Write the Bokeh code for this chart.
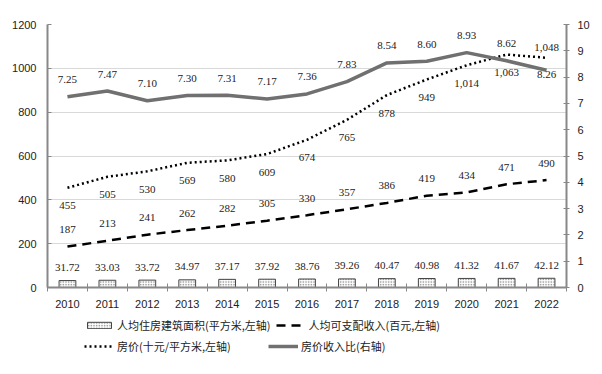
from bokeh.plotting import figure
from bokeh.layouts import column
from bokeh.models import (Range1d, LinearAxis, FixedTicker, ColumnDataSource,
                          LabelSet, Legend, LegendItem)
from bokeh.embed import file_html
from bokeh.resources import INLINE

years = [2010, 2011, 2012, 2013, 2014, 2015, 2016, 2017, 2018, 2019, 2020, 2021, 2022]
area = [31.72, 33.03, 33.72, 34.97, 37.17, 37.92, 38.76, 39.26, 40.47, 40.98, 41.32, 41.67, 42.12]
income = [187, 213, 241, 262, 282, 305, 330, 357, 386, 419, 434, 471, 490]
price = [455, 505, 530, 569, 580, 609, 674, 765, 878, 949, 1014, 1063, 1048]
ratio = [7.25, 7.47, 7.10, 7.30, 7.31, 7.17, 7.36, 7.83, 8.54, 8.60, 8.93, 8.62, 8.26]
left_ticks = [0, 200, 400, 600, 800, 1000, 1200]
right_ticks = [0, 1, 2, 3, 4, 5, 6, 7, 8, 9, 10]

names = ["人均住房建筑面积(平方米,左轴)", "人均可支配收入(百元,左轴)",
         "房价(十元/平方米,左轴)", "房价收入比(右轴)"]

FONT = "Liberation Sans"
CJK = "Noto Sans CJK SC"
AXIS_COL = "#888888"
W = 594

n = len(years)
price_off = [-18] * n
price_off[-1] = 10
ratio_off = [17] * n
ratio_off[-1] = -4

src = ColumnDataSource(dict(
    x=years, area=area, income=income, price=price, ratio=ratio,
    area_t=[f"{v:.2f}" for v in area],
    income_t=[str(v) for v in income],
    price_t=[f"{v:,}" for v in price],
    ratio_t=[f"{v:.2f}" for v in ratio],
    price_off=price_off, ratio_off=ratio_off,
))

p = figure(frame_width=519, frame_height=263,
           x_range=Range1d(2009.5, 2022.5), y_range=Range1d(0, 1200),
           output_backend="svg", toolbar_location=None,
           min_border_left=47, min_border_right=28, min_border_top=24,
           min_border_bottom=29)
p.outline_line_color = None
p.background_fill_color = "white"
p.border_fill_color = "white"
p.extra_y_ranges = {"right": Range1d(0, 10)}

# grid
p.xgrid.visible = False
p.ygrid.grid_line_color = "#d9d9d9"
p.ygrid.grid_line_width = 1

# left axis
ya = p.yaxis[0]
ya.ticker = FixedTicker(ticks=left_ticks)
ya.axis_line_color = AXIS_COL
ya.axis_line_width = 2
ya.major_tick_in = 4
ya.major_tick_out = 0
ya.major_tick_line_color = AXIS_COL
ya.minor_tick_line_color = None
ya.major_label_standoff = 11
ya.major_label_text_font = FONT
ya.major_label_text_font_size = "11px"
ya.major_label_text_color = "#222222"

# right axis
ra = LinearAxis(y_range_name="right", ticker=FixedTicker(ticks=right_ticks))
ra.axis_line_color = AXIS_COL
ra.axis_line_width = 2
ra.major_tick_in = 3
ra.major_tick_out = 3
ra.major_tick_line_color = AXIS_COL
ra.minor_tick_line_color = None
ra.major_label_standoff = 8
ra.major_label_text_font = FONT
ra.major_label_text_font_size = "11px"
ra.major_label_text_color = "#222222"
p.add_layout(ra, "right")

# x axis
xa = p.xaxis[0]
xa.ticker = FixedTicker(ticks=years, minor_ticks=[y - 0.5 for y in years] + [years[-1] + 0.5])
xa.major_label_overrides = {y: str(y) for y in years}
xa.axis_line_color = AXIS_COL
xa.axis_line_width = 2
xa.major_tick_in = 0
xa.major_tick_out = 0
xa.minor_tick_in = 4
xa.minor_tick_out = 4
xa.minor_tick_line_color = AXIS_COL
xa.major_label_standoff = 8
xa.major_label_text_font = FONT
xa.major_label_text_font_size = "11px"
xa.major_label_text_color = "#222222"

# styles
bar_style = dict(fill_color="white", line_color="#444444", line_width=1,
                 hatch_pattern="dot", hatch_color="#222222", hatch_scale=1.6,
                 hatch_weight=1)
inc_style = dict(line_color="black", line_width=2.5, line_dash="9 6")
pr_style = dict(line_color="black", line_width=2.5, line_dash="2 3")
rt_style = dict(line_color="#707070", line_width=3.5)

# marks
p.vbar(x="x", top="area", width=0.42, source=src, **bar_style)
p.line("x", "income", source=src, **inc_style)
p.line("x", "price", source=src, **pr_style)
p.line("x", "ratio", source=src, y_range_name="right", **rt_style)

lab_kw = dict(text_font=FONT, text_font_size="11px", text_color="#222222",
              text_align="center", text_baseline="middle")
p.add_layout(LabelSet(x="x", y="area", text="area_t", y_offset=13, source=src, **lab_kw))
p.add_layout(LabelSet(x="x", y="income", text="income_t", y_offset=17, source=src, **lab_kw))
p.add_layout(LabelSet(x="x", y="price", text="price_t", y_offset="price_off", source=src, **lab_kw))
p.add_layout(LabelSet(x="x", y="ratio", text="ratio_t", y_offset="ratio_off", source=src,
                      y_range_name="right", **lab_kw))

# legend panel (separate small figure below the chart; its renderers are
# hidden, only their legend swatches are drawn)
lf = figure(width=W, height=50, x_range=Range1d(0, 1), y_range=Range1d(0, 1),
            x_axis_type=None, y_axis_type=None,
            output_backend="svg", toolbar_location=None, min_border=0)
lf.grid.visible = False
lf.outline_line_color = None
lf.background_fill_color = "white"
lf.border_fill_color = "white"
r_bar = lf.vbar(x="x", top="area", width=0.42, source=src, visible=False, **bar_style)
r_inc = lf.line("x", "income", source=src, visible=False, **inc_style)
r_pr = lf.line("x", "price", source=src, visible=False, **pr_style)
r_rt = lf.line("x", "ratio", source=src, visible=False, **rt_style)


def make_legend(items, loc):
    lg = Legend(items=items, orientation="horizontal", location=loc)
    lg.label_text_font = CJK
    lg.label_text_font_size = "11px"
    lg.label_text_color = "#222222"
    lg.glyph_width = 30
    lg.glyph_height = 8
    lg.label_height = 8
    lg.label_width = 146
    lg.label_standoff = 3
    lg.spacing = 5
    lg.padding = 0
    lg.margin = 0
    lg.border_line_color = None
    lg.background_fill_alpha = 0
    return lg


leg1 = make_legend([LegendItem(label=names[0], renderers=[r_bar]),
                    LegendItem(label=names[1], renderers=[r_inc])], (37, 33))
leg2 = make_legend([LegendItem(label=names[2], renderers=[r_pr]),
                    LegendItem(label=names[3], renderers=[r_rt])], (37, 12))
lf.add_layout(leg1)
lf.add_layout(leg2)

layout = column(p, lf, spacing=0)
open("out.html", "w").write(file_html(layout, INLINE))
